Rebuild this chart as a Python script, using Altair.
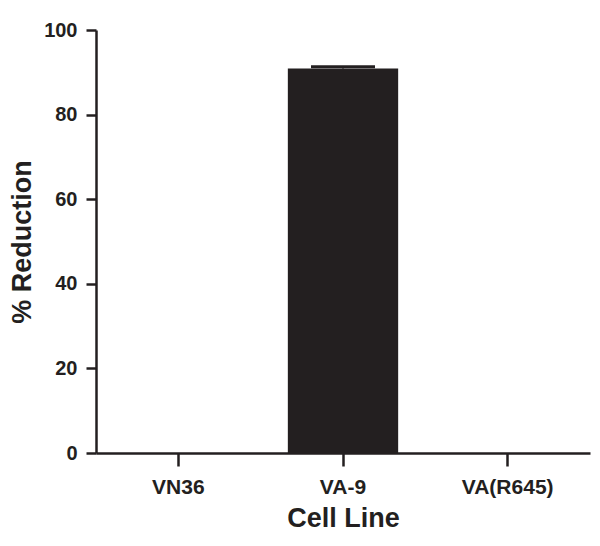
import altair as alt
import pandas as pd

cell_lines = ["VN36", "VA-9", "VA(R645)"]
reduction = [0.0, 90.9, 0.0]
sem = [0.0, 0.4, 0.0]
y_ticks = [0, 20, 40, 60, 80, 100]

df = pd.DataFrame({"cell": cell_lines, "mean": reduction, "sem": sem})
df["upper"] = df["mean"] + df["sem"]

ink = "#231f20"
font = "Liberation Sans"

x_enc = alt.X(
    "cell:N",
    sort=cell_lines,
    title="Cell Line",
    scale=alt.Scale(paddingInner=0.33, paddingOuter=0.165),
    axis=alt.Axis(labelAngle=0, tickSize=13, labelPadding=10, titlePadding=8, labelFontSize=21),
)
y_scale = alt.Scale(domain=[0, 100])

bars = alt.Chart(df).mark_bar(color=ink).encode(
    x=x_enc,
    y=alt.Y(
        "mean:Q",
        scale=y_scale,
        title="% Reduction",
        axis=alt.Axis(values=y_ticks, tickSize=10, labelPadding=9, titlePadding=7),
    ),
)

err_rule = alt.Chart(df).transform_filter("datum.sem > 0").mark_rule(
    color=ink, strokeWidth=2, opacity=1
).encode(x=alt.X("cell:N", sort=cell_lines), y=alt.Y("mean:Q", scale=y_scale), y2="upper:Q")

err_cap = alt.Chart(df).transform_filter("datum.sem > 0").mark_tick(
    color=ink, size=64, thickness=3, orient="horizontal", opacity=1
).encode(x=alt.X("cell:N", sort=cell_lines), y=alt.Y("upper:Q", scale=y_scale))

chart = (
    alt.layer(bars, err_rule, err_cap)
    .properties(
        width=494,
        height=423,
        autosize=alt.AutoSizeParams(type="none"),
        padding={"left": 88, "top": 22, "right": 2, "bottom": 90},
    )
    .configure_view(stroke=None)
    .configure_axis(
        grid=False,
        domainColor=ink,
        domainWidth=2.5,
        tickColor=ink,
        tickWidth=2.5,
        labelColor=ink,
        titleColor=ink,
        labelFont=font,
        titleFont=font,
        labelFontWeight="bold",
        titleFontWeight="bold",
        labelFontSize=20,
        titleFontSize=27,
    )
)

chart.save("out.html", embed_options={"renderer": "svg", "actions": False})
